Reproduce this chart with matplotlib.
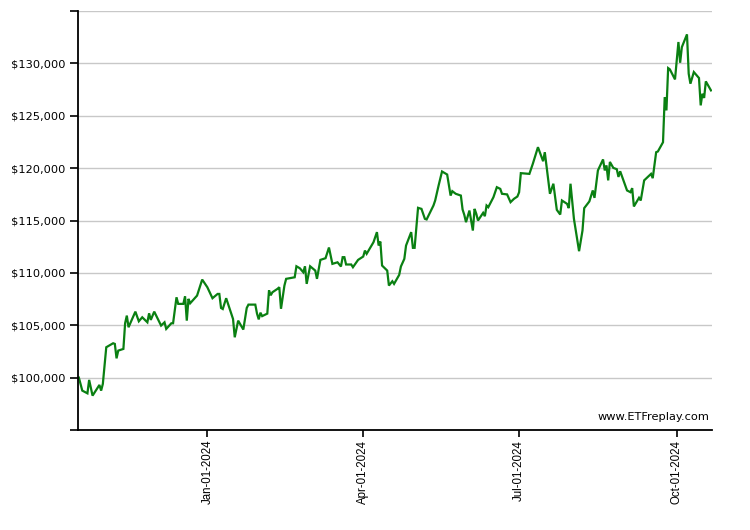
import datetime as dt
import matplotlib
matplotlib.use("Agg")
import matplotlib.pyplot as plt
import matplotlib.dates as mdates
from matplotlib.ticker import FuncFormatter, MultipleLocator

# Day offsets from 2024-01-01 and portfolio values
base_date = dt.date(2024, 1, 1)
day_offsets = [
    -75, -73, -70, -69, -67, -63, -62, -61, -59, -55, -54, -53, -52, -49, -48, -47, -46,
    -42, -40, -38, -35, -34, -33, -31, -27, -25, -24, -21, -20, -18, -17, -14, -13, -12,
    -11, -10, -6, -3, 0, 3, 6, 7, 8, 9, 11, 15, 16, 18, 21, 23, 24, 28, 29, 30, 31, 32,
    35, 36, 37, 38, 41, 42, 43, 45, 46, 51, 52, 54, 56, 57, 58, 60, 63, 64, 66, 69, 71,
    73, 76, 78, 79, 80, 81, 84, 85, 88, 91, 92, 93, 97, 99, 100, 101, 102, 105, 106, 108,
    109, 112, 113, 115, 116, 119, 120, 121, 123, 125, 127, 128, 132, 133, 135, 137, 140,
    142, 143, 145, 148, 149, 150, 151, 153, 155, 156, 157, 158, 160, 161, 162, 163, 164,
    167, 169, 171, 172, 175, 177, 179, 181, 182, 183, 188, 190, 193, 195, 196, 197, 200,
    202, 204, 206, 207, 210, 211, 212, 214, 217, 219, 220, 223, 225, 226, 228, 231, 232,
    233, 234, 235, 237, 239, 240, 241, 245, 247, 248, 249, 252, 253, 255, 259, 260, 262,
    263, 266, 267, 268, 269, 270, 273, 275, 276, 277, 280, 281, 282, 284, 287, 288, 289,
    290, 291, 294,
]
values = [
    100000, 98760, 98500, 99780, 98280, 99300, 98760, 99400, 102900, 103280, 103220,
    101840, 102580, 102740, 105190, 105920, 104810, 106300, 105380, 105760, 105280,
    106140, 105510, 106300, 104970, 105280, 104650, 105190, 105190, 107670, 107040,
    107040, 107770, 105440, 107520, 107100, 107830, 109360, 108630, 107580, 107990,
    107990, 106650, 106550, 107580, 105600, 103850, 105440, 104590, 106650, 106970,
    106970, 106110, 105560, 106200, 105870, 106110, 108330, 107860, 108150, 108480,
    108630, 106570, 108790, 109430, 109580, 110630, 110440, 110060, 110630, 108950,
    110630, 110220, 109430, 111240, 111400, 112420, 110860, 111010, 110610, 111500,
    111500, 110800, 110800, 110540, 111240, 111560, 112130, 111820, 112930, 113890,
    112610, 112990, 110700, 110220, 108790, 109200, 108950, 109810, 110610, 111340,
    112610, 113890, 112390, 112390, 116210, 116110, 115160, 115100, 116430, 116910,
    118340, 119680, 119390, 117380, 117800, 117550, 117380, 116050, 115540, 114840,
    115950, 114040, 116110, 115640, 115000, 115480, 115730, 115410, 116430, 116270,
    117220, 118180, 118020, 117550, 117490, 116750, 117070, 117290, 117700, 119520,
    119450, 120410, 122000, 121110, 120660, 121520, 117550, 118510, 116020, 115570,
    116910, 116590, 116180, 118510, 115160, 112070, 114040, 116180, 116820, 117870,
    117160, 119780, 120830, 119780, 120260, 118830, 120590, 120020, 119900, 119160,
    119700, 117870, 117700, 118090, 116340, 117170, 116910, 118830, 119450, 119040,
    121520, 121590, 122470, 126780, 125510, 129550, 129430, 128470, 132040, 130060,
    131550, 132770, 129010, 128060, 129170, 128600, 125990, 127100, 126700, 128280,
    127420,
]
tick_dates = ["2024-01-01", "2024-04-01", "2024-07-01", "2024-10-01"]
watermark = "www.ETFreplay.com"

dates = [base_date + dt.timedelta(days=d) for d in day_offsets]
ticks = [dt.date.fromisoformat(s) for s in tick_dates]

fig = plt.figure(figsize=(7.5, 5.3), dpi=100)
ax = fig.add_axes([78 / 750, 1 - 430 / 530, (712 - 78) / 750, (430 - 11) / 530])

ax.plot(dates, values, color="#0a8012", linewidth=1.6, solid_joinstyle="miter")

ax.set_ylim(95000, 135000)
x0 = mdates.date2num(base_date) - 75.5
x1 = mdates.date2num(base_date) + 294.6
ax.set_xlim(x0, x1)

ax.yaxis.set_major_locator(MultipleLocator(5000))
ax.yaxis.set_major_formatter(
    FuncFormatter(lambda v, p: "" if v < 99000 or v > 131000 else f"${v:,.0f}")
)
ax.set_xticks(ticks)
ax.set_xticklabels([t.strftime("%b-%d-%Y") for t in ticks], rotation=90,
                   family="Liberation Sans", fontsize=8.3)

ax.grid(axis="y", color="#c8c8c8", linewidth=1.0)
ax.set_axisbelow(True)
for s in ("top", "right"):
    ax.spines[s].set_visible(False)
for s in ("left", "bottom"):
    ax.spines[s].set_linewidth(1.3)
    ax.spines[s].set_color("black")

ax.tick_params(axis="y", length=6, width=1.2, labelsize=8.2, pad=3, colors="black")
ax.tick_params(axis="x", length=5, width=1.2, pad=2, colors="black")
for lbl in ax.get_yticklabels():
    lbl.set_family("DejaVu Sans")

ax.text(0.9965, 0.02, watermark, transform=ax.transAxes, ha="right", va="bottom",
        fontsize=8.2, family="DejaVu Sans", color="black")

fig.savefig("out.png", dpi=100)
